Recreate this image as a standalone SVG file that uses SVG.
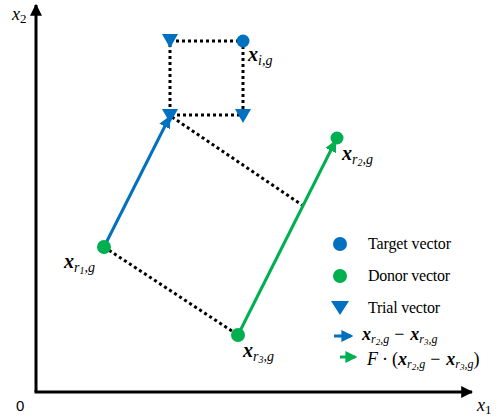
<svg xmlns="http://www.w3.org/2000/svg" width="503" height="420" viewBox="0 0 503 420">
<style>
.ax{stroke:#000;stroke-width:3;fill:none}
.dot{stroke:#000;stroke-width:3;stroke-dasharray:3 3;fill:none}
.blue{fill:#0070C0}
.green{fill:#00B050}
.m{font-family:"Liberation Serif",serif;font-style:italic;font-weight:bold;font-size:20px}
.mi{font-family:"Liberation Serif",serif;font-style:italic;font-weight:normal;font-size:14px}
.mr{font-family:"Liberation Serif",serif;font-style:italic;font-size:18px}
.lm{font-family:"Liberation Serif",serif;font-style:italic;font-size:18px}
.ls{font-family:"Liberation Serif",serif;font-style:italic;font-weight:normal;font-size:12px}
.lg{font-family:"Liberation Serif",serif;font-size:16px}
</style>
<defs>
<marker id="ah" viewBox="0 0 10 10" refX="9" refY="5" markerWidth="4" markerHeight="4" orient="auto" markerUnits="strokeWidth"><path d="M0,0 L10,5 L0,10 z" fill="#000"/></marker>
<marker id="ab" viewBox="0 0 10 10" refX="8" refY="5" markerWidth="4" markerHeight="4" orient="auto" markerUnits="strokeWidth"><path d="M0,0 L10,5 L0,10 z" fill="#0070C0"/></marker>
<marker id="ag" viewBox="0 0 10 10" refX="8" refY="5" markerWidth="4" markerHeight="4" orient="auto" markerUnits="strokeWidth"><path d="M0,0 L10,5 L0,10 z" fill="#00B050"/></marker>
<path id="tri" d="M-8,-6 L8,-6 L0,8 z"/>
</defs>
<g id="axes">
<path class="ax" d="M36,392 V5" marker-end="url(#ah)"/>
<path class="ax" d="M34.5,392 H472" marker-end="url(#ah)"/>
<text x="16" y="411" font-family="Liberation Sans, sans-serif" font-size="15">0</text>
<text class="mr" x="477" y="411">x<tspan font-size="13" font-style="normal" dy="3">1</tspan></text>
<text class="mr" x="12" y="20">x<tspan font-size="13" font-style="normal" dy="3">2</tspan></text>
</g>
<g id="connectors">
<path class="dot" d="M170,41 H243 V115 H170 V41"/>
<path class="dot" d="M104,247 L238,335"/>
<path class="dot" d="M172,117 L302,205"/>
<path d="M104,247 L169,118" stroke="#0070C0" stroke-width="3" fill="none" marker-end="url(#ab)"/>
<path d="M238,335 L335,142" stroke="#00B050" stroke-width="3" fill="none" marker-end="url(#ag)"/>
</g>
<g id="target"><circle class="blue" cx="243" cy="41" r="6.5"/>
<text class="m" x="248" y="61">x<tspan class="mi" dy="4">i,g</tspan></text></g>
<g id="trial1"><use href="#tri" class="blue" x="170" y="40"/></g>
<g id="trial2"><use href="#tri" class="blue" x="243" y="115"/></g>
<g id="r1"><circle class="green" cx="104" cy="247" r="7"/>
<text class="m" x="64" y="268">x<tspan class="mi" dy="4">r<tspan font-size="10" dy="2">1</tspan><tspan dy="-2">,g</tspan></tspan></text></g>
<g id="r2"><circle class="green" cx="337" cy="138" r="6.5"/>
<text class="m" x="342" y="160">x<tspan class="mi" dy="4">r<tspan font-size="10" dy="2">2</tspan><tspan dy="-2">,g</tspan></tspan></text></g>
<g id="r3"><circle class="green" cx="238" cy="335" r="7"/>
<text class="m" x="243" y="357">x<tspan class="mi" dy="4">r<tspan font-size="10" dy="2">3</tspan><tspan dy="-2">,g</tspan></tspan></text></g>
<g id="legend">
<circle class="blue" cx="340" cy="244" r="7"/>
<text class="lg" x="368" y="249" textLength="83">Target vector</text>
<circle class="green" cx="340" cy="276" r="7"/>
<text class="lg" x="368" y="281" textLength="82">Donor vector</text>
<path class="blue" d="M331,301 L349,301 L340,315 z"/>
<text class="lg" x="368" y="313" textLength="72">Trial vector</text>
<path d="M334,336 H351" stroke="#0070C0" stroke-width="3" marker-end="url(#ab)"/>
<text class="lm" x="362" y="340"><tspan font-weight="bold">x</tspan><tspan class="ls" dy="3">r<tspan font-size="9" dy="2">2</tspan><tspan dy="-2">,g</tspan></tspan><tspan font-style="normal" dy="-3" dx="5">−</tspan><tspan font-weight="bold" dx="6">x</tspan><tspan class="ls" dy="3">r<tspan font-size="9" dy="2">3</tspan><tspan dy="-2">,g</tspan></tspan></text>
<path d="M340,357 H355" stroke="#00B050" stroke-width="3" marker-end="url(#ag)"/>
<text class="lm" x="367" y="365">F<tspan font-style="normal" dx="4">·</tspan><tspan font-style="normal" dx="4">(</tspan><tspan font-weight="bold">x</tspan><tspan class="ls" dy="3">r<tspan font-size="9" dy="2">2</tspan><tspan dy="-2">,g</tspan></tspan><tspan font-style="normal" dy="-3" dx="5">−</tspan><tspan font-weight="bold" dx="6">x</tspan><tspan class="ls" dy="3">r<tspan font-size="9" dy="2">3</tspan><tspan dy="-2">,g</tspan></tspan><tspan font-style="normal" dy="-3">)</tspan></text>
</g>
<g id="trial3"><use href="#tri" class="blue" x="170" y="115"/></g>
</svg>
